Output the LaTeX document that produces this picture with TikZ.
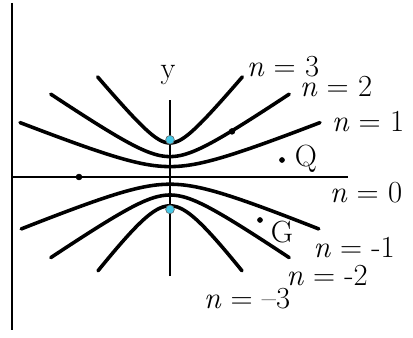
\documentclass[tikz,border=0pt]{standalone}
\usepackage{fontspec}
\definecolor{dotcyan}{RGB}{70,200,230}
\newcommand{\nlab}[1]{\textit{n} = #1}

\begin{document}
\begin{tikzpicture}[x=0.711cm,y=0.711cm,font=\fontsize{15.5}{19}\selectfont,
    curve/.style={line width=1.8pt,line cap=round},
    axis/.style={line width=1pt}]
        \useasboundingbox (-4.25,-4.0) rectangle (6.075,4.425);
        \draw[axis] (-3.95,4.35) -- (-3.95,-3.825);
        \draw[axis] (-3.95,0) -- (4.45,0);
        \draw[axis] (0,-2.475) -- (0,1.925);
        \node (ylab) at (-0.05,2.55) {y};
        % level curves: vertex / slope / rounding / half width
        \foreach \v/\s/\r/\d in {0.85/1.2/0.5/1.81, 0.51/0.683/0.8/2.98, 0.26/0.402/1.2/3.75,
                                 -0.18/-0.413/1.2/3.72, -0.45/-0.685/0.8/2.98, -0.72/-1.32/0.7/1.8}
          \draw[curve] plot[domain=-\d:\d,samples=80,smooth] (\x,{\v+\s*(sqrt((\x)*(\x)+\r*\r)-\r)});
        \node (n3) at (2.825,2.75) {\nlab{3}};
        \node (n2) at (4.15,2.25) {\nlab{2}};
        \node (n1) at (4.95,1.375) {\nlab{1}};
        \node (n0) at (4.9,-0.4) {\nlab{0}};
        \node (nm1) at (4.6,-1.775) {\nlab{-1}};
        \node (nm2) at (3.925,-2.475) {\nlab{-2}};
        \node (nm3) at (1.925,-3.05) {\nlab{--3}};
        \filldraw (1.55,1.14) circle (0.07);
        \filldraw (-2.275,0) circle (0.07);
        \filldraw (2.8,0.425) circle (0.06) node (Q) at (3.4,0.45) {Q};
        \filldraw (2.25,-1.075) circle (0.06) node (G) at (2.8,-1.375) {G};
        \filldraw[dotcyan,draw=black!60,line width=0.3pt] (0,0.93) circle (0.11);
        \filldraw[dotcyan,draw=black!60,line width=0.3pt] (0,-0.81) circle (0.11);
      \end{tikzpicture}
\end{document}
